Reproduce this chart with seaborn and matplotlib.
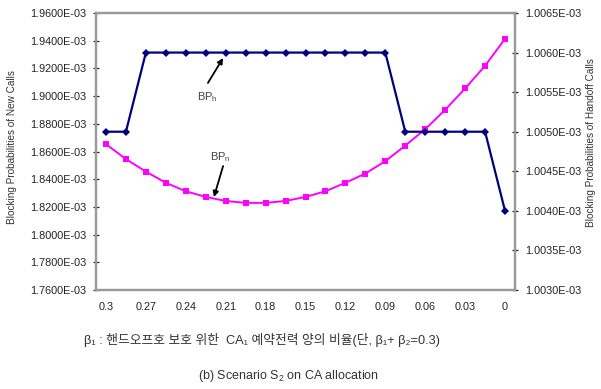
import matplotlib
matplotlib.use("Agg")
import matplotlib.pyplot as plt
import seaborn as sns
import pandas as pd
import numpy as np

# beta_1 share of CA reserved for handoff protection (beta_1 + beta_2 = 0.3)
beta1 = [0.3, 0.285, 0.27, 0.255, 0.24, 0.225, 0.21, 0.195, 0.18, 0.165, 0.15,
         0.135, 0.12, 0.105, 0.09, 0.075, 0.06, 0.045, 0.03, 0.015, 0.0]
beta1_labels = ["0.3", "", "0.27", "", "0.24", "", "0.21", "", "0.18", "", "0.15",
                "", "0.12", "", "0.09", "", "0.06", "", "0.03", "", "0"]

# blocking probability of new calls (x 1e-3), left axis
bp_new = [1.8653, 1.8545, 1.8455, 1.8374, 1.8313, 1.8272, 1.8243, 1.8229, 1.8229,
          1.8243, 1.8272, 1.8313, 1.8374, 1.8441, 1.8530, 1.8643, 1.8761, 1.8901,
          1.9055, 1.9219, 1.9414]
# blocking probability of handoff calls (x 1e-3), right axis
bp_handoff = [1.0050, 1.0050, 1.0060, 1.0060, 1.0060, 1.0060, 1.0060, 1.0060,
              1.0060, 1.0060, 1.0060, 1.0060, 1.0060, 1.0060, 1.0060, 1.0050,
              1.0050, 1.0050, 1.0050, 1.0050, 1.0040]

left_ticks = [1.76, 1.78, 1.80, 1.82, 1.84, 1.86, 1.88, 1.90, 1.92, 1.94, 1.96]
right_ticks = [1.0030, 1.0035, 1.0040, 1.0045, 1.0050, 1.0055, 1.0060, 1.0065]

sns.set_style("white")
plt.rcParams["font.family"] = ["Liberation Sans", "Noto Sans CJK KR", "DejaVu Sans"]
plt.rcParams["mathtext.fontset"] = "custom"
plt.rcParams["mathtext.rm"] = "Liberation Sans"
plt.rcParams["mathtext.it"] = "Liberation Sans"
plt.rcParams["mathtext.bf"] = "Liberation Sans:bold"

df = pd.DataFrame({
    "pos": np.arange(len(beta1)),
    "beta1": beta1,
    "bp_new": bp_new,
    "bp_handoff": bp_handoff,
})

fig = plt.figure(figsize=(6.01, 3.89), dpi=100)
ax = fig.add_axes([96 / 601, 1 - 290 / 389, (515 - 96) / 601, (290 - 13) / 389])
ax2 = ax.twinx()

sns.lineplot(data=df, x="pos", y="bp_new", ax=ax, color="#ff00ff", marker="s",
             markersize=4.8, markeredgewidth=0, linewidth=1.4, zorder=3)
sns.lineplot(data=df, x="pos", y="bp_handoff", ax=ax2, color="#000080", marker="D",
             markersize=4.0, markeredgewidth=0, linewidth=1.6, zorder=3)

tick_color = "#222222"
frame_color = "#9a9a9a"

ax.set_xlim(-0.5, len(beta1) - 0.5)
ax.set_ylim(left_ticks[0], left_ticks[-1])
ax2.set_ylim(right_ticks[0], right_ticks[-1])

ax.set_xticks(df["pos"])
ax.set_xticklabels(beta1_labels)
ax.set_xticks(np.arange(len(beta1) + 1) - 0.5, minor=True)
ax.tick_params(axis="x", which="major", length=0, pad=9, labelsize=7.8,
               labelcolor=tick_color)
ax.tick_params(axis="x", which="minor", direction="in", length=3.5, width=0.9,
               color=tick_color)

ax.set_yticks(left_ticks)
ax.set_yticklabels([f"{v:.4f}E-03" for v in left_ticks])
ax.tick_params(axis="y", direction="inout", length=4, width=0.9, color=tick_color,
               labelsize=7.8, labelcolor=tick_color, pad=5)

ax2.set_yticks(right_ticks)
ax2.set_yticklabels([f"{v:.4f}E-03" for v in right_ticks])
ax2.tick_params(axis="y", direction="inout", length=4, width=0.9, color=tick_color,
                labelsize=7.8, labelcolor=tick_color, pad=5)

for a in (ax, ax2):
    for s in a.spines.values():
        s.set_visible(True)
        s.set_color(frame_color)
        s.set_linewidth(1.6)
    a.grid(False)

ax.set_xlabel("")
ax.set_ylabel("")
ax2.set_xlabel("")
ax2.set_ylabel("")

fig.text(12 / 601, 1 - 147 / 389, "Blocking Probabilities of New Calls",
         rotation=90, ha="center", va="center", fontsize=7.2, color="#333333")
fig.text(591 / 601, 1 - 143 / 389, "Blocking Probabilities of Handoff Calls",
         rotation=90, ha="center", va="center", fontsize=7.2, color="#333333")

fig.text(262 / 601, 1 - 340 / 389,
         "β₁ : 핸드오프호 보호 위한  CA₁ 예약전력 양의 비율(단, β₁+ β₂=0.3)",
         ha="center", va="center", fontsize=9.2, color="#333333")
fig.text(288 / 601, 1 - 376 / 389, "(b) Scenario S$_2$ on CA allocation",
         ha="center", va="center", fontsize=9, color="#333333")

# curve labels with pointer arrows
ax.annotate("", xy=(5.87, 1.9275), xytext=(5.11, 1.9095),
            arrowprops=dict(arrowstyle="-|>", color="black", lw=1.3,
                            mutation_scale=8, shrinkA=0, shrinkB=0))
ax.text(5.06, 1.8994, "BP$_h$", ha="center", va="center", fontsize=8,
        color="#444444")
ax.annotate("", xy=(5.41, 1.8271), xytext=(5.87, 1.8495),
            arrowprops=dict(arrowstyle="-|>", color="black", lw=1.3,
                            mutation_scale=8, shrinkA=0, shrinkB=0))
ax.text(5.72, 1.856, "BP$_n$", ha="center", va="center", fontsize=8,
        color="#444444")

fig.savefig("out.png", dpi=100)
